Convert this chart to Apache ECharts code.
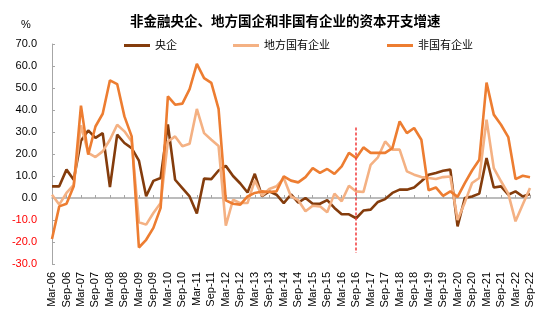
<!DOCTYPE html>
<html><head><meta charset="utf-8">
<script src="https://cdn.jsdelivr.net/npm/echarts@6/dist/echarts.min.js"></script>
<style>html,body{margin:0;padding:0;background:#fff}#c{width:550px;height:328px}</style>
</head><body><div id="c"></div>
<script>
var titleText = '非金融央企、地方国企和非国有企业的资本开支增速';
var seriesNames = ['央企', '地方国有企业', '非国有企业'];
var categories = [
'Mar-06','Jun-06','Sep-06','Dec-06','Mar-07','Jun-07','Sep-07','Dec-07',
'Mar-08','Jun-08','Sep-08','Dec-08','Mar-09','Jun-09','Sep-09','Dec-09',
'Mar-10','Jun-10','Sep-10','Dec-10','Mar-11','Jun-11','Sep-11','Dec-11',
'Mar-12','Jun-12','Sep-12','Dec-12','Mar-13','Jun-13','Sep-13','Dec-13',
'Mar-14','Jun-14','Sep-14','Dec-14','Mar-15','Jun-15','Sep-15','Dec-15',
'Mar-16','Jun-16','Sep-16','Dec-16','Mar-17','Jun-17','Sep-17','Dec-17',
'Mar-18','Jun-18','Sep-18','Dec-18','Mar-19','Jun-19','Sep-19','Dec-19',
'Mar-20','Jun-20','Sep-20','Dec-20','Mar-21','Jun-21','Sep-21','Dec-21',
'Mar-22','Jun-22','Sep-22'];
var centralSOE = [5.3,5.3,12.9,8.3,26,30.7,27.3,29.5,5,28.8,25,22.7,17,0.8,7.8,9.1,
33.5,8.3,4.5,0.7,-7,8.8,8.6,12.5,14.6,10,6.6,2.5,11,0.8,3,1.5,
-2.3,1.6,-2.1,0,-2.6,-2.6,-1,-4.5,-7.4,-7.4,-9.2,-5.7,-5.3,-1.8,-0.5,2.3,
3.8,3.8,4.8,7.6,10.6,11.4,12.4,12.9,-12.9,0,0.7,2,18.2,4.8,5.3,1.5,
3,0.7,1.8];
var localSOE = [1.5,-3,2.3,6,33,20.5,18.6,21.2,26.5,33.3,30.3,25.7,-11,-12.1,-6.8,-2.3,
25.7,28,23.5,24.7,40.5,29.5,26.5,23.6,-12.6,-0.8,-2.3,-2.3,8,1,4.1,5.3,
9.1,0.7,-1,-6,-3.5,-3.8,-6.5,2,-1.5,5.6,3,2.7,15.1,18.5,25.7,22,
22,12.1,10.6,9.5,9.1,8.6,9.5,9.8,-10,-2,6.8,9.1,35.6,13.6,7.6,2,
-10.6,-3,4.5];
var nonState = [-18.6,-3.8,-2.6,5.3,42,19.7,32.5,38.3,53.5,51.8,37.1,28,-22.5,-19,-13.6,-4.5,
46.2,42.4,42.9,49.5,61,54.5,52.3,40.5,-1.1,-2.6,-3,0.7,2.3,3,2.7,3,
9.8,7.9,7.1,9.5,13.6,11.4,13.2,11,14.4,20.5,18.2,23,20.5,20.5,20.5,22.7,
34.8,29.5,31.8,26.5,3.5,4.8,1,3,0.5,6.8,12.5,17.4,52.5,37.9,33.3,27.7,
8.6,10.1,9.4];
var dividerCategory = 'Sep-16';
var dividerTop = 32;
var dividerBottom = -25;

var FONT = '"Liberation Sans", Arial, "Noto Sans CJK SC", sans-serif';
var colors = ['#843C0C', '#F4B183', '#ED7D31'];
var chart = echarts.init(document.getElementById('c'), null, {renderer: 'canvas'});
var legendLefts = [124, 233, 387];
var legends = seriesNames.map(function (n, i) {
  return {
    data: [n], left: legendLefts[i], top: 40, padding: 0,
    icon: 'rect', itemWidth: 26, itemHeight: 3, itemGap: 5,
    textStyle: {fontSize: 11, color: '#000', fontFamily: FONT}
  };
});
var seriesData = [centralSOE, localSOE, nonState];
var series = seriesNames.map(function (n, i) {
  var s = {
    name: n, type: 'line', data: seriesData[i], xAxisIndex: 0, yAxisIndex: 0,
    symbol: 'none', smooth: false,
    lineStyle: {color: colors[i], width: 2.6},
    itemStyle: {color: colors[i]}
  };
  if (i === 2) {
    s.markLine = {
      silent: true, symbol: 'none', animation: false,
      label: {show: false},
      lineStyle: {color: '#F23B3B', type: [3, 2], width: 1.5},
      data: [[{coord: [dividerCategory, dividerTop]}, {coord: [dividerCategory, dividerBottom]}]]
    };
  }
  return s;
});
chart.setOption({
  animation: false,
  backgroundColor: '#fff',
  title: {
    text: titleText, left: 130, top: 16, padding: 0,
    textStyle: {fontSize: 13.5, fontWeight: 'bold', color: '#000', fontFamily: FONT}
  },
  graphic: [{type: 'text', left: 21, top: 19, style: {text: '%', fontSize: 11, fill: '#000', font: '11px ' + FONT}}],
  legend: legends,
  grid: {left: 52, right: 20, top: 44, bottom: 64, containLabel: false},
  xAxis: [{
    type: 'category', data: categories, boundaryGap: false, position: 'bottom',
    axisLine: {show: false, onZero: false}, axisTick: {show: false},
    axisLabel: {interval: 1, rotate: 90, fontSize: 11, color: '#000', margin: 8, fontFamily: FONT},
    splitLine: {show: false}
  }, {
    type: 'category', data: categories, boundaryGap: false, position: 'top',
    axisLine: {show: true, onZero: true, lineStyle: {color: '#A6A6A6', width: 1.5}},
    axisTick: {show: true, interval: 1, inside: false, length: 3, lineStyle: {color: '#A6A6A6', width: 1}},
    axisLabel: {show: false, interval: 1},
    splitLine: {show: false}
  }],
  yAxis: {
    type: 'value', min: -30, max: 70, interval: 10,
    axisLine: {show: true, lineStyle: {color: '#A6A6A6', width: 1}},
    axisTick: {show: true, inside: true, length: 3, lineStyle: {color: '#A6A6A6'}},
    splitLine: {show: false},
    axisLabel: {
      fontSize: 11, margin: 15, fontFamily: FONT,
      formatter: function (v) { return v.toFixed(1); },
      color: function (v) { return Number(v) < 0 ? '#FF0000' : '#000'; }
    }
  },
  series: series
});
</script></body></html>
